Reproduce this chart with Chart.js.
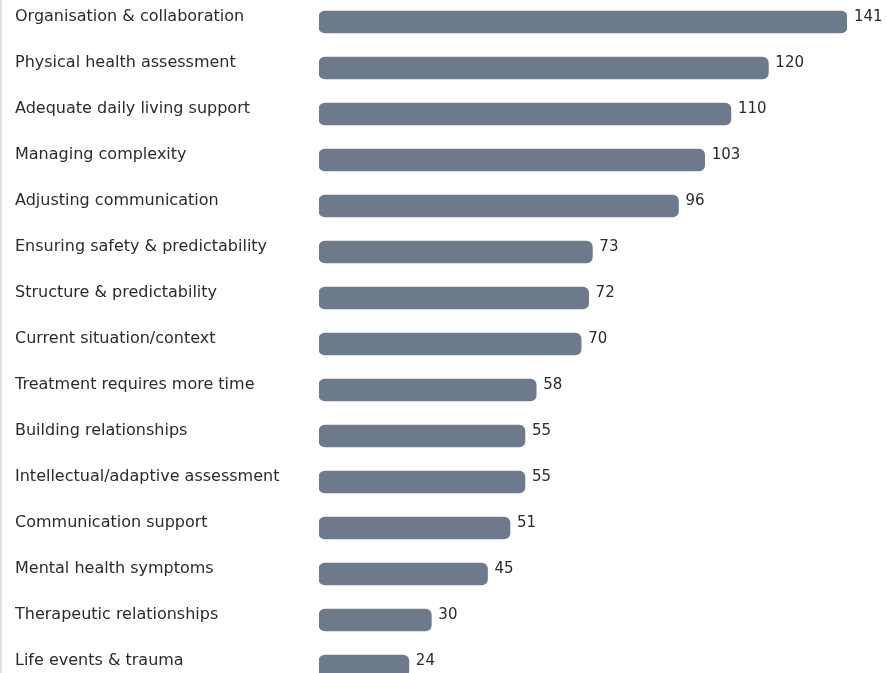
<!DOCTYPE html>
<html>
<head>
<meta charset="utf-8">
<script src="https://cdn.jsdelivr.net/npm/chart.js@4.4.0/dist/chart.umd.min.js"></script>
<style>
  html, body { margin: 0; padding: 0; background: #fff; overflow: hidden; }
  #wrap { position: absolute; left: 0; top: -1px; width: 887px; height: 690px; }
  #edge { position: absolute; left: 0; top: 0; width: 2px; height: 673px; background: #e2e2e2; }
</style>
</head>
<body>
<div id="wrap"><canvas id="barChart"></canvas></div>
<div id="edge"></div>
<script>
const categories = [
  "Organisation & collaboration",
  "Physical health assessment",
  "Adequate daily living support",
  "Managing complexity",
  "Adjusting communication",
  "Ensuring safety & predictability",
  "Structure & predictability",
  "Current situation/context",
  "Treatment requires more time",
  "Building relationships",
  "Intellectual/adaptive assessment",
  "Communication support",
  "Mental health symptoms",
  "Therapeutic relationships",
  "Life events & trauma"
];
const counts = [141, 120, 110, 103, 96, 73, 72, 70, 58, 55, 55, 51, 45, 30, 24];

// labels next to the end of each bar
const valueLabels = {
  id: "valueLabels",
  afterDatasetsDraw(chart) {
    const ctx = chart.ctx;
    const meta = chart.getDatasetMeta(0);
    ctx.save();
    ctx.font = "15px 'DejaVu Sans'";
    ctx.fillStyle = "#2b2b2b";
    ctx.textAlign = "left";
    ctx.textBaseline = "middle";
    meta.data.forEach((bar, i) => {
      ctx.fillText(String(counts[i]), bar.x + 7, bar.y - 5);
    });
    ctx.restore();
  }
};

const ctx = document.getElementById("barChart").getContext("2d");
new Chart(ctx, {
  type: "bar",
  data: {
    labels: categories,
    datasets: [{
      data: counts,
      backgroundColor: "#6c7a8c",
      borderRadius: 6,
      borderSkipped: false,
      barThickness: 22
    }]
  },
  options: {
    indexAxis: "y",
    responsive: true,
    maintainAspectRatio: false,
    animation: false,
    layout: { padding: { left: 15, right: 40, top: 0, bottom: 0 } },
    plugins: {
      legend: { display: false },
      tooltip: { enabled: false }
    },
    scales: {
      x: {
        display: false,
        min: 0,
        max: 141
      },
      y: {
        grid: { display: false },
        border: { display: false },
        afterFit: (scale) => {
          scale.width = 304;
          scale.paddingTop = 0;
          scale.paddingBottom = 0;
        },
        ticks: {
          crossAlign: "far",
          labelOffset: -5,
          color: "#2b2b2b",
          font: { family: "'DejaVu Sans'", size: 16 }
        }
      }
    }
  },
  plugins: [valueLabels]
});
</script>
</body>
</html>
